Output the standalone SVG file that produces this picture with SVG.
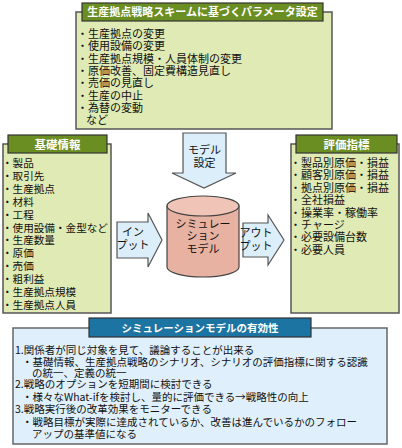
<svg xmlns="http://www.w3.org/2000/svg" width="402" height="448" viewBox="0 0 402 448">
<style>
.gbody{fill:#dfeab4;stroke:#555;stroke-width:1.5}
.gbar{fill:#6b8e23;stroke:#333;stroke-width:1.2}
.bbody{fill:#dff0fc;stroke:#666;stroke-width:1.5}
.bbar{fill:#1b74a2;stroke:#333;stroke-width:1.2}
.arrow{fill:#dceefa;stroke:#555;stroke-width:1.2}
.t{font-family:"Noto Sans CJK JP","Noto Sans",sans-serif;font-size:11px;fill:#111}
.tb{font-size:10.5px}
.h{font-family:"Noto Sans CJK JP","Noto Sans",sans-serif;font-size:11px;font-weight:bold;fill:#fff;text-anchor:middle}
.c{text-anchor:middle}
</style>
<rect width="402" height="448" fill="#fff"/>
<g id="params">
<rect class="gbody" x="76" y="12" width="256" height="117"/>
<rect class="gbar" x="82" y="3" width="241" height="18"/>
<text class="h" x="202.5" y="16">生産拠点戦略スキームに基づくパラメータ設定</text>
<text class="t"><tspan x="77" y="38">・生産拠点の変更</tspan><tspan x="77" y="50.3">・使用設備の変更</tspan><tspan x="77" y="62.6">・生産拠点規模・人員体制の変更</tspan><tspan x="77" y="74.9">・原価改善、固定費構造見直し</tspan><tspan x="77" y="87.2">・売価の見直し</tspan><tspan x="77" y="99.5">・生産の中止</tspan><tspan x="77" y="111.8">・為替の変動</tspan><tspan x="86" y="124.1">など</tspan></text>
</g>
<g id="basic">
<rect class="gbody" x="3" y="144" width="108" height="169"/>
<rect class="gbar" x="8" y="135" width="99" height="18"/>
<text class="h" x="57.5" y="148.5" style="font-size:11.5px">基礎情報</text>
<text class="t" style="font-size:10.6px"><tspan x="2" y="167">・製品</tspan><tspan x="2" y="179.9">・取引先</tspan><tspan x="2" y="192.8">・生産拠点</tspan><tspan x="2" y="205.7">・材料</tspan><tspan x="2" y="218.6">・工程</tspan><tspan x="2" y="231.5">・使用設備・金型など</tspan><tspan x="2" y="244.4">・生産数量</tspan><tspan x="2" y="257.3">・原価</tspan><tspan x="2" y="270.2">・売価</tspan><tspan x="2" y="283.1">・粗利益</tspan><tspan x="2" y="296">・生産拠点規模</tspan><tspan x="2" y="308.9">・生産拠点人員</tspan></text>
</g>
<g id="eval">
<rect class="gbody" x="291" y="144" width="108" height="169"/>
<rect class="gbar" x="296" y="135" width="101" height="18"/>
<text class="h" x="346.5" y="148.5" style="font-size:11.5px">評価指標</text>
<text class="t"><tspan x="290" y="167">・製品別原価・損益</tspan><tspan x="290" y="179.4">・顧客別原価・損益</tspan><tspan x="290" y="191.8">・拠点別原価・損益</tspan><tspan x="290" y="204.2">・全社損益</tspan><tspan x="290" y="216.6">・操業率・稼働率</tspan><tspan x="290" y="229">・チャージ</tspan><tspan x="290" y="241.4">・必要設備台数</tspan><tspan x="290" y="253.8">・必要人員</tspan></text>
</g>
<g id="model">
<path d="M167,206 L167,267 A36,10 0 0 0 239,267 L239,206 Z" fill="#e8b2a2" stroke="#444" stroke-width="1.2"/>
<ellipse cx="203" cy="206" rx="36" ry="10" fill="#f0c4b6" stroke="#444" stroke-width="1.2"/>
<text class="t c"><tspan x="203" y="227.5">シミュレー</tspan><tspan x="203" y="240">ション</tspan><tspan x="203" y="252.5">モデル</tspan></text>
</g>
<g id="connectors">
<g id="model-setting">
<path class="arrow" d="M183,133 L226,133 L226,173 L236,173 L204,188 L172,173 L183,173 Z"/>
<text class="t c"><tspan x="204.5" y="154">モデル</tspan><tspan x="204.5" y="167">設定</tspan></text>
</g>
<g id="input">
<path class="arrow" d="M117,222 L148,222 L148,213 L162,240 L148,267 L148,258 L117,258 Z"/>
<text class="t c"><tspan x="133" y="236">イン</tspan><tspan x="133" y="249">プット</tspan></text>
</g>
<g id="output">
<path class="arrow" d="M243,223 L268,223 L268,215 L284,240 L268,265 L268,257 L243,257 Z"/>
<text class="t c"><tspan x="256" y="237">アウト</tspan><tspan x="256" y="250">プット</tspan></text>
</g>
</g>
<g id="effectiveness">
<rect class="bbody" x="13" y="328" width="374" height="116"/>
<rect class="bbar" x="89" y="318" width="222" height="19"/>
<text class="h" x="200" y="331.5" style="font-size:10.5px">シミュレーションモデルの有効性</text>
<text class="t tb"><tspan x="15" y="354">1.関係者が同じ対象を見て、議論することが出来る</tspan><tspan x="22" y="366">・基礎情報、生産拠点戦略のシナリオ、シナリオの評価指標に関する認識</tspan><tspan x="32" y="377">の統一、定義の統一</tspan><tspan x="15" y="388">2.戦略のオプションを短期間に検討できる</tspan><tspan x="22" y="401">・様々なWhat-ifを検討し、量的に評価できる→戦略性の向上</tspan><tspan x="15" y="413">3.戦略実行後の改革効果をモニターできる</tspan><tspan x="22" y="426">・戦略目標が実際に達成されているか、改善は進んでいるかのフォロー</tspan><tspan x="32" y="438">アップの基準値になる</tspan></text>
</g>
</svg>
